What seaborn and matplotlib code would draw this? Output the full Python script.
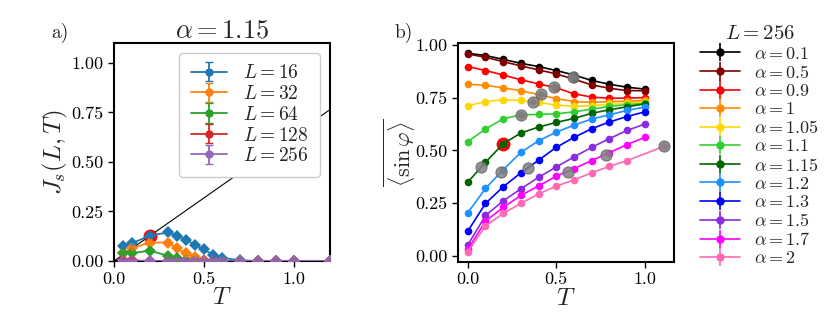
import numpy as np
import pandas as pd
import matplotlib
matplotlib.use('Agg')
import matplotlib.pyplot as plt
import seaborn as sns

# panel a): helicity modulus J_s(L, T) at alpha = 1.15
temps_a = [0.05, 0.1, 0.2, 0.3, 0.35, 0.4, 0.45, 0.5, 0.55, 0.6, 0.7, 0.8, 0.9, 1.0, 1.2]
sizes = [16, 32, 64, 128, 256]
js_16 = [0.078, 0.090, 0.128, 0.144, 0.128, 0.107, 0.081, 0.059, 0.030, 0.016, 0.003, 0.0, 0.0, 0.0, 0.0]
js_32 = [0.042, 0.064, 0.093, 0.093, 0.064, 0.039, 0.019, 0.005, 0.0, 0.0, 0.0, 0.0, 0.0, 0.0, 0.0]
js_64 = [0.041, 0.040, 0.052, 0.026, 0.013, 0.005, 0.0, 0.0, 0.0, 0.0, 0.0, 0.0, 0.0, 0.0, 0.0]
js_128 = [0.005, 0.003, 0.0, 0.0, 0.0, 0.0, 0.0, 0.0, 0.0, 0.0, 0.0, 0.0, 0.0, 0.0, 0.0]
js_256 = [0.0, 0.0, 0.0, 0.0, 0.0, 0.0, 0.0, 0.0, 0.0, 0.0, 0.0, 0.0, 0.0, 0.0, 0.0]
js_err = 0.012
colors_a = ['#1f77b4', '#ff7f0e', '#2ca02c', '#d62728', '#9467bd']
bkt_T = [0.0, 1.2]          # universal jump line 2T/pi
cross_a = (0.2, 0.127)      # intersection marked in red

# panel b): <sin phi> for L = 256
alphas = ['0.1', '0.5', '0.9', '1', '1.05', '1.1', '1.15', '1.2', '1.3', '1.5', '1.7', '2']
temps_b = [0.0, 0.1, 0.2, 0.3, 0.4, 0.5, 0.6, 0.7, 0.8, 0.9, 1.0]
temps_b_last = [0.0, 0.1, 0.2, 0.3, 0.4, 0.5, 0.6, 0.7, 0.8, 0.9, 1.11]
sin_vals = {
    '0.1':  [0.961, 0.950, 0.932, 0.913, 0.898, 0.879, 0.858, 0.832, 0.814, 0.800, 0.791],
    '0.5':  [0.957, 0.942, 0.921, 0.901, 0.882, 0.863, 0.838, 0.811, 0.795, 0.784, 0.783],
    '0.9':  [0.898, 0.879, 0.858, 0.835, 0.816, 0.797, 0.769, 0.753, 0.748, 0.748, 0.751],
    '1':    [0.814, 0.809, 0.797, 0.783, 0.765, 0.746, 0.732, 0.728, 0.731, 0.734, 0.737],
    '1.05': [0.712, 0.732, 0.740, 0.737, 0.728, 0.715, 0.710, 0.713, 0.718, 0.724, 0.731],
    '1.1':  [0.542, 0.602, 0.650, 0.669, 0.671, 0.674, 0.683, 0.696, 0.709, 0.717, 0.723],
    '1.15': [0.350, 0.444, 0.532, 0.583, 0.611, 0.633, 0.652, 0.676, 0.693, 0.707, 0.721],
    '1.2':  [0.205, 0.320, 0.409, 0.491, 0.546, 0.587, 0.620, 0.649, 0.669, 0.690, 0.706],
    '1.3':  [0.118, 0.249, 0.328, 0.394, 0.454, 0.515, 0.562, 0.603, 0.635, 0.661, 0.683],
    '1.5':  [0.052, 0.192, 0.261, 0.318, 0.373, 0.422, 0.469, 0.515, 0.556, 0.595, 0.625],
    '1.7':  [0.031, 0.165, 0.230, 0.287, 0.332, 0.378, 0.414, 0.452, 0.490, 0.528, 0.562],
    '2':    [0.020, 0.142, 0.202, 0.249, 0.294, 0.331, 0.361, 0.394, 0.425, 0.452, 0.520],
}
colors_b = ['black', '#800000', '#ff0000', '#ff8c00', '#ffd700', '#32cd32',
            '#006400', '#1e90ff', '#0000ff', '#8a2be2', '#ff00ff', '#ff69b4']
# estimated transition points (grey) and the alpha = 1.15 point (red)
tc_T = [0.594, 0.49, 0.415, 0.368, 0.30, 0.075, 0.19, 0.34, 0.566, 0.783, 1.11]
tc_val = [0.850, 0.803, 0.769, 0.732, 0.669, 0.420, 0.397, 0.417, 0.397, 0.480, 0.520]
tc_xerr = [0.02, 0.02, 0.02, 0.02, 0.02, 0.0, 0.0, 0.0, 0.0, 0.0, 0.0]
tc_yerr = [0.015, 0.015, 0.015, 0.015, 0.015, 0.0, 0.0, 0.0, 0.0, 0.0, 0.0]
cross_b = (0.2, 0.530)

sns.set_style('ticks')
plt.rcParams['font.family'] = 'serif'
plt.rcParams['font.serif'] = ['cmr10']
plt.rcParams['mathtext.fontset'] = 'cm'
plt.rcParams['axes.formatter.use_mathtext'] = True
plt.rcParams['axes.linewidth'] = 1.5
plt.rcParams['axes.edgecolor'] = 'black'
plt.rcParams['xtick.color'] = 'black'
plt.rcParams['ytick.color'] = 'black'

fig = plt.figure(figsize=(8.3, 3.32), dpi=100)
ax1 = fig.add_axes([0.1373, 0.2139, 0.2603, 0.6566])
ax2 = fig.add_axes([0.5518, 0.2117, 0.2602, 0.6579])

# ---- panel a
df_a = pd.DataFrame({
    'T': temps_a * len(sizes),
    'J': js_16 + js_32 + js_64 + js_128 + js_256,
    'L': np.repeat(sizes, len(temps_a)),
})
pal_a = dict(zip(sizes, colors_a))

sns.lineplot(x=bkt_T, y=[2 * t / np.pi for t in bkt_T], color='black', linewidth=0.8,
             ax=ax1, zorder=2)
ax1.plot(*cross_a, 'o', color='red', ms=9, zorder=3)
sns.lineplot(data=df_a, x='T', y='J', hue='L', palette=pal_a, marker='D', markersize=6,
             markeredgewidth=0, linewidth=1.3, legend=False, ax=ax1, zorder=4)
handles_a = []
for L, c in zip(sizes, colors_a):
    sub = df_a[df_a['L'] == L]
    ax1.errorbar(sub['T'], sub['J'], yerr=js_err, fmt='none', ecolor=c, elinewidth=1,
                 capsize=1.5, zorder=4)
    handles_a.append(ax1.errorbar([np.nan], [np.nan], yerr=[1.0], fmt='-o', color=c, ms=5,
                                  lw=1.3, capsize=3, label=f'$L = {L}$'))

ax1.set_xlim(0, 1.2)
ax1.set_ylim(0, 1.1)
ax1.set_xticks([0.0, 0.5, 1.0])
ax1.set_yticks([0.0, 0.25, 0.5, 0.75, 1.0])
ax1.set_xticklabels(['0.0', '0.5', '1.0'])
ax1.set_yticklabels(['0.00', '0.25', '0.50', '0.75', '1.00'])
ax1.tick_params(labelsize=13, length=4, width=1)
ax1.set_xlabel('$T$', fontsize=18, labelpad=0)
ax1.set_ylabel('$J_s(L,T)$', fontsize=18)
ax1.yaxis.set_label_coords(-0.205, 0.5)
ax1.set_title(r'$\alpha = 1.15$', fontsize=19, pad=4)
ax1.legend(handles=handles_a, loc='upper right', fontsize=14, framealpha=1,
           handlelength=1.9, labelspacing=0.14, borderpad=0.6)

# ---- panel b
rows = []
for a in alphas:
    ts = temps_b_last if a == '2' else temps_b
    for t, v in zip(ts, sin_vals[a]):
        rows.append((a, t, v))
df_b = pd.DataFrame(rows, columns=['alpha', 'T', 'sin'])
pal_b = dict(zip(alphas, colors_b))

ax2.plot(*cross_b, 'o', color='red', ms=9, zorder=2)
sns.lineplot(data=df_b, x='T', y='sin', hue='alpha', hue_order=alphas, palette=pal_b,
             marker='o', markersize=5.5, markeredgewidth=0, linewidth=1.2, legend=False,
             ax=ax2, zorder=3)
ax2.errorbar(tc_T, tc_val, xerr=tc_xerr, yerr=tc_yerr, fmt='o', color='gray', ms=8,
             mec='dimgray', mew=0.8, ecolor='dimgray', elinewidth=2.5, alpha=0.85, zorder=4)
handles_b = []
for a, c in zip(alphas, colors_b):
    handles_b.append(ax2.errorbar([np.nan], [np.nan], yerr=[1.0], fmt='-o', color=c, ms=5,
                                  lw=1.2, label=r'$\alpha =$' + a))

ax2.set_xticks([0.0, 0.5, 1.0])
ax2.set_yticks([0.0, 0.25, 0.5, 0.75, 1.0])
ax2.set_xticklabels(['0.0', '0.5', '1.0'])
ax2.set_yticklabels(['0.00', '0.25', '0.50', '0.75', '1.00'])
ax2.tick_params(labelsize=13, length=4, width=1)
ax2.set_xlabel('$T$', fontsize=18, labelpad=0)
ax2.set_ylabel(r'$\overline{\langle \sin \varphi \rangle}$', fontsize=16)
ax2.yaxis.set_label_coords(-0.186, 0.5)
leg = ax2.legend(handles=handles_b, loc='upper left', bbox_to_anchor=(0.835, 0.945),
                 bbox_transform=fig.transFigure, frameon=False, fontsize=13,
                 title='$L = 256$', title_fontsize=15, handlelength=2.2,
                 handletextpad=0.8, labelspacing=0.12, borderaxespad=0)

fig.text(0.062, 0.885, 'a)', fontsize=14)
fig.text(0.475, 0.885, 'b)', fontsize=14)

fig.savefig('out.png', dpi=100)
